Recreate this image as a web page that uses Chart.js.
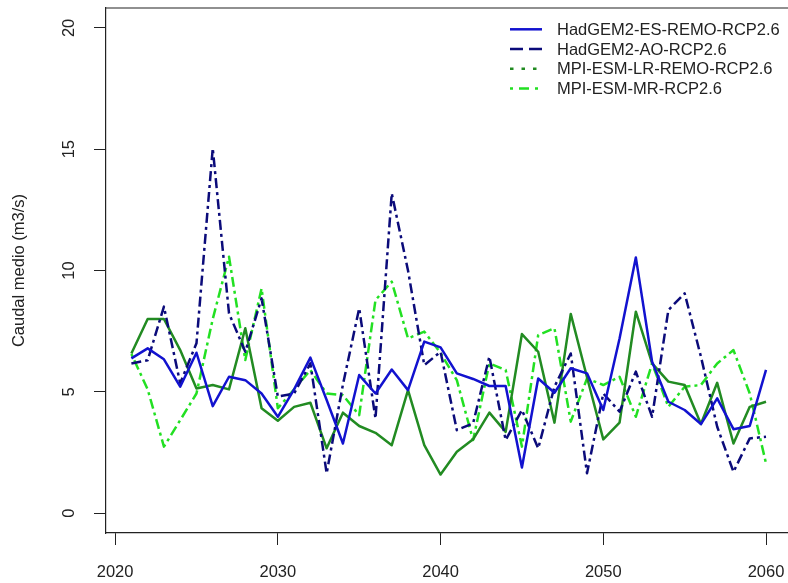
<!DOCTYPE html>
<html>
<head>
<meta charset="utf-8">
<script src="https://cdn.jsdelivr.net/npm/chart.js@4/dist/chart.umd.min.js"></script>
<style>
  html, body { margin: 0; padding: 0; overflow: hidden; background: #fff; width: 788px; height: 583px; }
  #wrap { width: 792px; height: 583px; }
</style>
</head>
<body>
<div id="wrap"><canvas id="c" width="792" height="583"></canvas></div>
<script>
// Mean annual discharge (m3/s), 2021-2060, four RCP2.6 model runs
const years = [2021, 2022, 2023, 2024, 2025, 2026, 2027, 2028, 2029, 2030,
               2031, 2032, 2033, 2034, 2035, 2036, 2037, 2038, 2039, 2040,
               2041, 2042, 2043, 2044, 2045, 2046, 2047, 2048, 2049, 2050,
               2051, 2052, 2053, 2054, 2055, 2056, 2057, 2058, 2059, 2060];

const hadgemEsRemo = [6.38, 6.79, 6.34, 5.21, 6.61, 4.41, 5.62, 5.48, 4.93, 3.97,
                      5.10, 6.41, 4.66, 2.87, 5.69, 4.93, 5.92, 5.07, 7.07, 6.83,
                      5.76, 5.53, 5.24, 5.24, 1.88, 5.55, 4.96, 5.97, 5.76, 4.25,
                      7.20, 10.54, 6.24, 4.59, 4.25, 3.67, 4.73, 3.46, 3.59, 5.90];

const hadgemAo = [6.17, 6.30, 8.51, 5.35, 7.00, 15.04, 8.23, 6.65, 8.85, 4.80,
                  4.93, 6.17, 1.64, 5.30, 8.44, 3.90, 13.18, 10.00, 6.10, 6.65,
                  3.42, 3.70, 6.45, 3.01, 4.25, 2.67, 5.21, 6.58, 1.64, 4.93,
                  4.18, 5.83, 3.97, 8.37, 9.06, 6.45, 3.56, 1.70, 3.08, 3.15];

const mpiLrRemo = [6.58, 8.00, 8.00, 6.72, 5.14, 5.28, 5.10, 7.62, 4.32, 3.81,
                   4.38, 4.55, 2.67, 4.14, 3.59, 3.31, 2.80, 5.07, 2.80, 1.59,
                   2.53, 3.04, 4.14, 3.35, 7.38, 6.65, 3.73, 8.21, 5.60, 3.04,
                   3.73, 8.30, 6.17, 5.42, 5.28, 3.67, 5.37, 2.87, 4.38, 4.59];

const mpiMr = [6.56, 5.10, 2.74, 3.83, 4.93, 8.00, 10.57, 6.31, 9.26, 4.32,
               5.10, 5.90, 4.93, 4.86, 4.04, 8.78, 9.54, 7.20, 7.48, 6.60,
               5.48, 3.01, 6.17, 5.90, 2.74, 7.34, 7.62, 3.77, 5.55, 5.28,
               5.62, 3.97, 6.17, 4.38, 5.21, 5.28, 6.17, 6.72, 4.93, 2.05];

const seriesNames = ['HadGEM2-ES-REMO-RCP2.6', 'HadGEM2-AO-RCP2.6',
                     'MPI-ESM-LR-REMO-RCP2.6', 'MPI-ESM-MR-RCP2.6'];

const xTicks = [2020, 2030, 2040, 2050, 2060];
const yTicks = [0, 5, 10, 15, 20];

const FONT = '"Liberation Sans", Arial, Helvetica, sans-serif';
const INK = '#222222';

const toPoints = vals => vals.map((v, i) => ({ x: years[i], y: v }));

// line styles in the plot and their samples in the key
const styles = [
  { color: '#1212CF', dash: [],            keyDash: [] },
  { color: '#0B0B7A', dash: [10, 4, 3, 4], keyDash: [13, 6] },
  { color: '#228B22', dash: [],            keyDash: [3.5, 8] },
  { color: '#22E022', dash: [3, 4, 10, 4], keyDash: [3, 6, 10, 6] }
];

const seriesValues = [hadgemEsRemo, hadgemAo, mpiLrRemo, mpiMr];

const datasets = seriesValues.map((vals, i) => ({
  label: seriesNames[i],
  data: toPoints(vals),
  borderColor: styles[i].color,
  backgroundColor: styles[i].color,
  borderWidth: 2.5,
  borderDash: styles[i].dash,
  borderJoinStyle: 'round',
  borderCapStyle: 'butt',
  pointRadius: 0,
  tension: 0,
  fill: false
}));

// frame line along the top of the plotting region
const topFrame = {
  id: 'topFrame',
  afterDraw(chart) {
    const { ctx, chartArea } = chart;
    ctx.save();
    ctx.strokeStyle = INK;
    ctx.lineWidth = 1.2;
    ctx.beginPath();
    ctx.moveTo(chartArea.left, chartArea.top);
    ctx.lineTo(chartArea.right + 2, chartArea.top);
    ctx.stroke();
    ctx.restore();
  }
};

// key in the upper right corner: line sample followed by the series name
const seriesKey = {
  id: 'seriesKey',
  afterDatasetsDraw(chart) {
    const ctx = chart.ctx;
    const x0 = 510, x1 = 542, tx = 557, top = 29.3, step = 19.7;
    ctx.save();
    ctx.font = '16.5px ' + FONT;
    ctx.textBaseline = 'middle';
    ctx.textAlign = 'left';
    chart.data.datasets.forEach((ds, i) => {
      const y = top + i * step;
      ctx.strokeStyle = ds.borderColor;
      ctx.lineWidth = ds.borderWidth;
      ctx.lineCap = 'butt';
      ctx.setLineDash(styles[i].keyDash);
      ctx.beginPath();
      ctx.moveTo(x0, y);
      ctx.lineTo(x1, y);
      ctx.stroke();
      ctx.setLineDash([]);
      ctx.fillStyle = INK;
      ctx.fillText(ds.label, tx, y + 1);
    });
    ctx.restore();
  }
};

new Chart(document.getElementById('c'), {
  type: 'line',
  data: { datasets },
  plugins: [topFrame, seriesKey],
  options: {
    responsive: false,
    animation: false,
    events: [],
    layout: { padding: { left: 0, top: 8, right: 0.6, bottom: 0 } },
    plugins: {
      legend: { display: false },
      tooltip: { enabled: false },
      title: { display: false }
    },
    scales: {
      x: {
        type: 'linear',
        min: 2019.44,
        max: 2061.56,
        afterBuildTicks: s => { s.ticks = xTicks.map(v => ({ value: v })); },
        afterFit: s => { s.height = 50; s.paddingLeft = 0; s.paddingRight = 0; },
        grid: { drawOnChartArea: false, drawTicks: true, tickLength: 12, color: INK, lineWidth: 1 },
        border: { display: true, color: INK, width: 1.2 },
        ticks: {
          autoSkip: false,
          maxRotation: 0,
          minRotation: 0,
          padding: 18,
          color: INK,
          font: { family: FONT, size: 16.5 },
          callback: v => String(v)
        }
      },
      y: {
        type: 'linear',
        min: -0.82,
        max: 20.82,
        afterBuildTicks: s => { s.ticks = yTicks.map(v => ({ value: v })); },
        afterFit: s => { s.width = 106; s.paddingTop = 0; s.paddingBottom = 0; },
        grid: { drawOnChartArea: false, drawTicks: true, tickLength: 12, color: INK, lineWidth: 1 },
        border: { display: true, color: INK, width: 1.2 },
        ticks: {
          autoSkip: false,
          minRotation: 90,
          maxRotation: 90,
          crossAlign: 'center',
          padding: 15,
          color: INK,
          font: { family: FONT, size: 16.5 },
          callback: v => String(v)
        },
        title: {
          display: true,
          text: 'Caudal medio (m3/s)',
          color: INK,
          font: { family: FONT, size: 16.5 },
          padding: { top: 10, bottom: 0 }
        }
      }
    }
  }
});
</script>
</body>
</html>
